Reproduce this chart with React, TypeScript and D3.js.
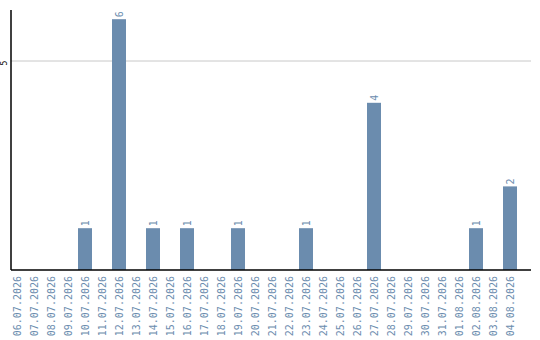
import React from "react";
import * as d3 from "d3";

const days: string[] = [
  "06.07.2026", "07.07.2026", "08.07.2026", "09.07.2026", "10.07.2026",
  "11.07.2026", "12.07.2026", "13.07.2026", "14.07.2026", "15.07.2026",
  "16.07.2026", "17.07.2026", "18.07.2026", "19.07.2026", "20.07.2026",
  "21.07.2026", "22.07.2026", "23.07.2026", "24.07.2026", "25.07.2026",
  "26.07.2026", "27.07.2026", "28.07.2026", "29.07.2026", "30.07.2026",
  "31.07.2026", "01.08.2026", "02.08.2026", "03.08.2026", "04.08.2026",
];
const counts: number[] = [
  0, 0, 0, 0, 1,
  0, 6, 0, 1, 0,
  1, 0, 0, 1, 0,
  0, 0, 1, 0, 0,
  0, 4, 0, 0, 0,
  0, 0, 1, 0, 2,
];
const yTicks: number[] = [5];

const W = 540;
const H = 340;
const axisX = 11;
const baseY = 270;
const topY = 10;
const rightX = 531;
const barColor = "#6b8cae";
const mono = "'DejaVu Sans Mono', monospace";

export default function App() {
  const pInner = 3 / 17;
  const x = d3
    .scaleBand<string>()
    .domain(days)
    .range([8.5, 518.5])
    .paddingInner(pInner)
    .paddingOuter(pInner / 2);
  const y = d3.scaleLinear().domain([0, 5]).range([baseY, 61]);

  return (
    <svg
      width={W}
      height={H}
      style={{ position: "absolute", left: 0, top: 0, background: "#fff" }}
    >
      {yTicks.map((t) => (
        <g key={t}>
          <line x1={axisX} x2={rightX} y1={y(t)} y2={y(t)} stroke="#c8c8c8" strokeWidth={1} />
          <text
            transform={`translate(7,${y(t) + 2}) rotate(-90)`}
            textAnchor="middle"
            fontFamily={mono}
            fontSize={8}
            fill="#000"
          >
            {t}
          </text>
        </g>
      ))}
      {days.map((d, i) => {
        const v = counts[i];
        if (!v) return null;
        const bx = x(d)!;
        const cx = bx + x.bandwidth() / 2;
        return (
          <g key={d}>
            <rect x={bx} y={y(v)} width={x.bandwidth()} height={baseY - y(v)} fill={barColor} />
            <text
              transform={`translate(${cx},${y(v) - 2}) rotate(-90)`}
              textAnchor="start"
              dominantBaseline="central"
              fontFamily={mono}
              fontSize={10}
              fill={barColor}
            >
              {v}
            </text>
          </g>
        );
      })}
      <line x1={axisX} x2={axisX} y1={topY} y2={baseY} stroke="#000" strokeWidth={1.5} />
      <line x1={axisX} x2={rightX} y1={baseY} y2={baseY} stroke="#000" strokeWidth={1.5} />
      {days.map((d) => {
        const cx = x(d)! + x.bandwidth() / 2;
        return (
          <text
            key={d}
            transform={`translate(${cx},276) rotate(-90)`}
            textAnchor="end"
            dominantBaseline="central"
            fontFamily={mono}
            fontSize={10}
            fill={barColor}
          >
            {d}
          </text>
        );
      })}
    </svg>
  );
}
